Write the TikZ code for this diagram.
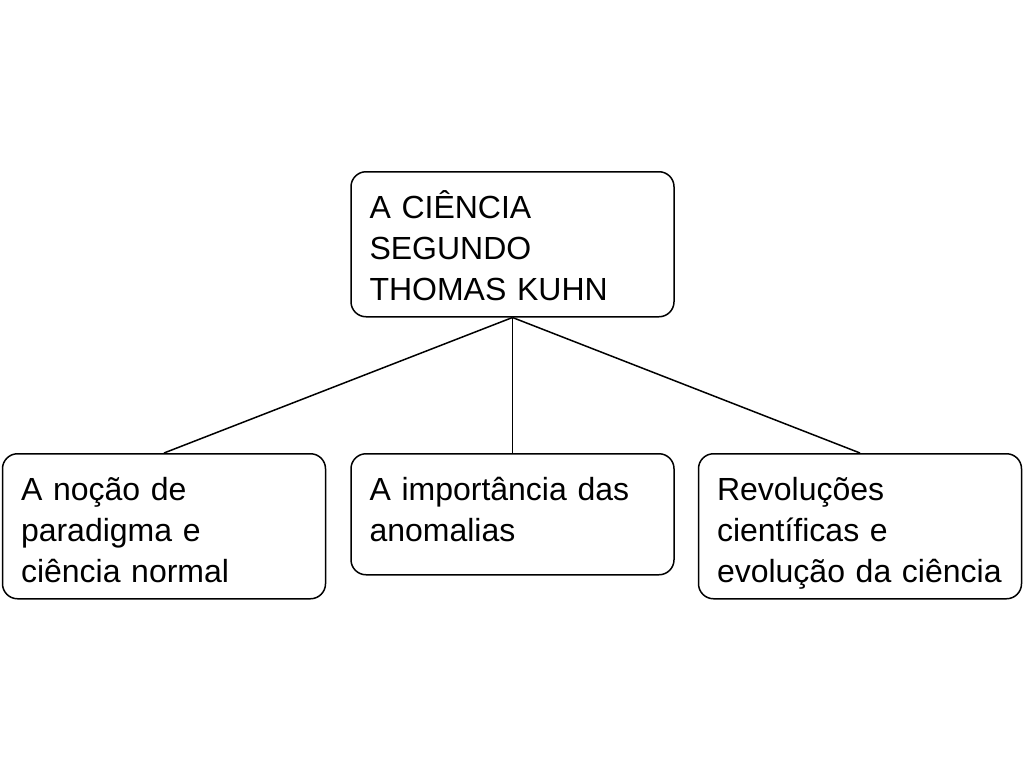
\documentclass[tikz,border=0pt]{standalone}
\usepackage{fontspec}
\setmainfont{Liberation Sans}
\usetikzlibrary{positioning}

\tikzset{
  topic/.style={draw, line width=1.5pt, rounded corners=15pt, align=left,
    text width=286pt, inner xsep=18.5pt, inner ysep=0pt,
    text height=46.5pt, text depth=98.5pt, anchor=north,
    font=\fontsize{32}{41}\selectfont},
  link/.style={line width=1.5pt}
}

\begin{document}
\begin{tikzpicture}[x=1pt,y=-1pt]
\useasboundingbox[fill=white] (0,0) rectangle (1024,768);
% Main topic
\node[topic] (kuhn) at (512.5,171)
  {A CIÊNCIA\\SEGUNDO\\THOMAS KUHN};
% Sub topics
\node[topic] (paradigma) at (164,453)
  {A noção de\\paradigma e\\ciência normal};
\node[topic, text depth=74.5pt] (anomalias) at (512.5,453)
  {A importância das\\anomalias};
\node[topic] (revolucoes) at (860,453)
  {Revoluções\\científicas e\\evolução da ciência};
% Links
\draw[link] (kuhn.south) -- (paradigma.north);
\draw[link] (kuhn.south) -- (anomalias.north);
\draw[link] (kuhn.south) -- (revolucoes.north);
\end{tikzpicture}
\end{document}
